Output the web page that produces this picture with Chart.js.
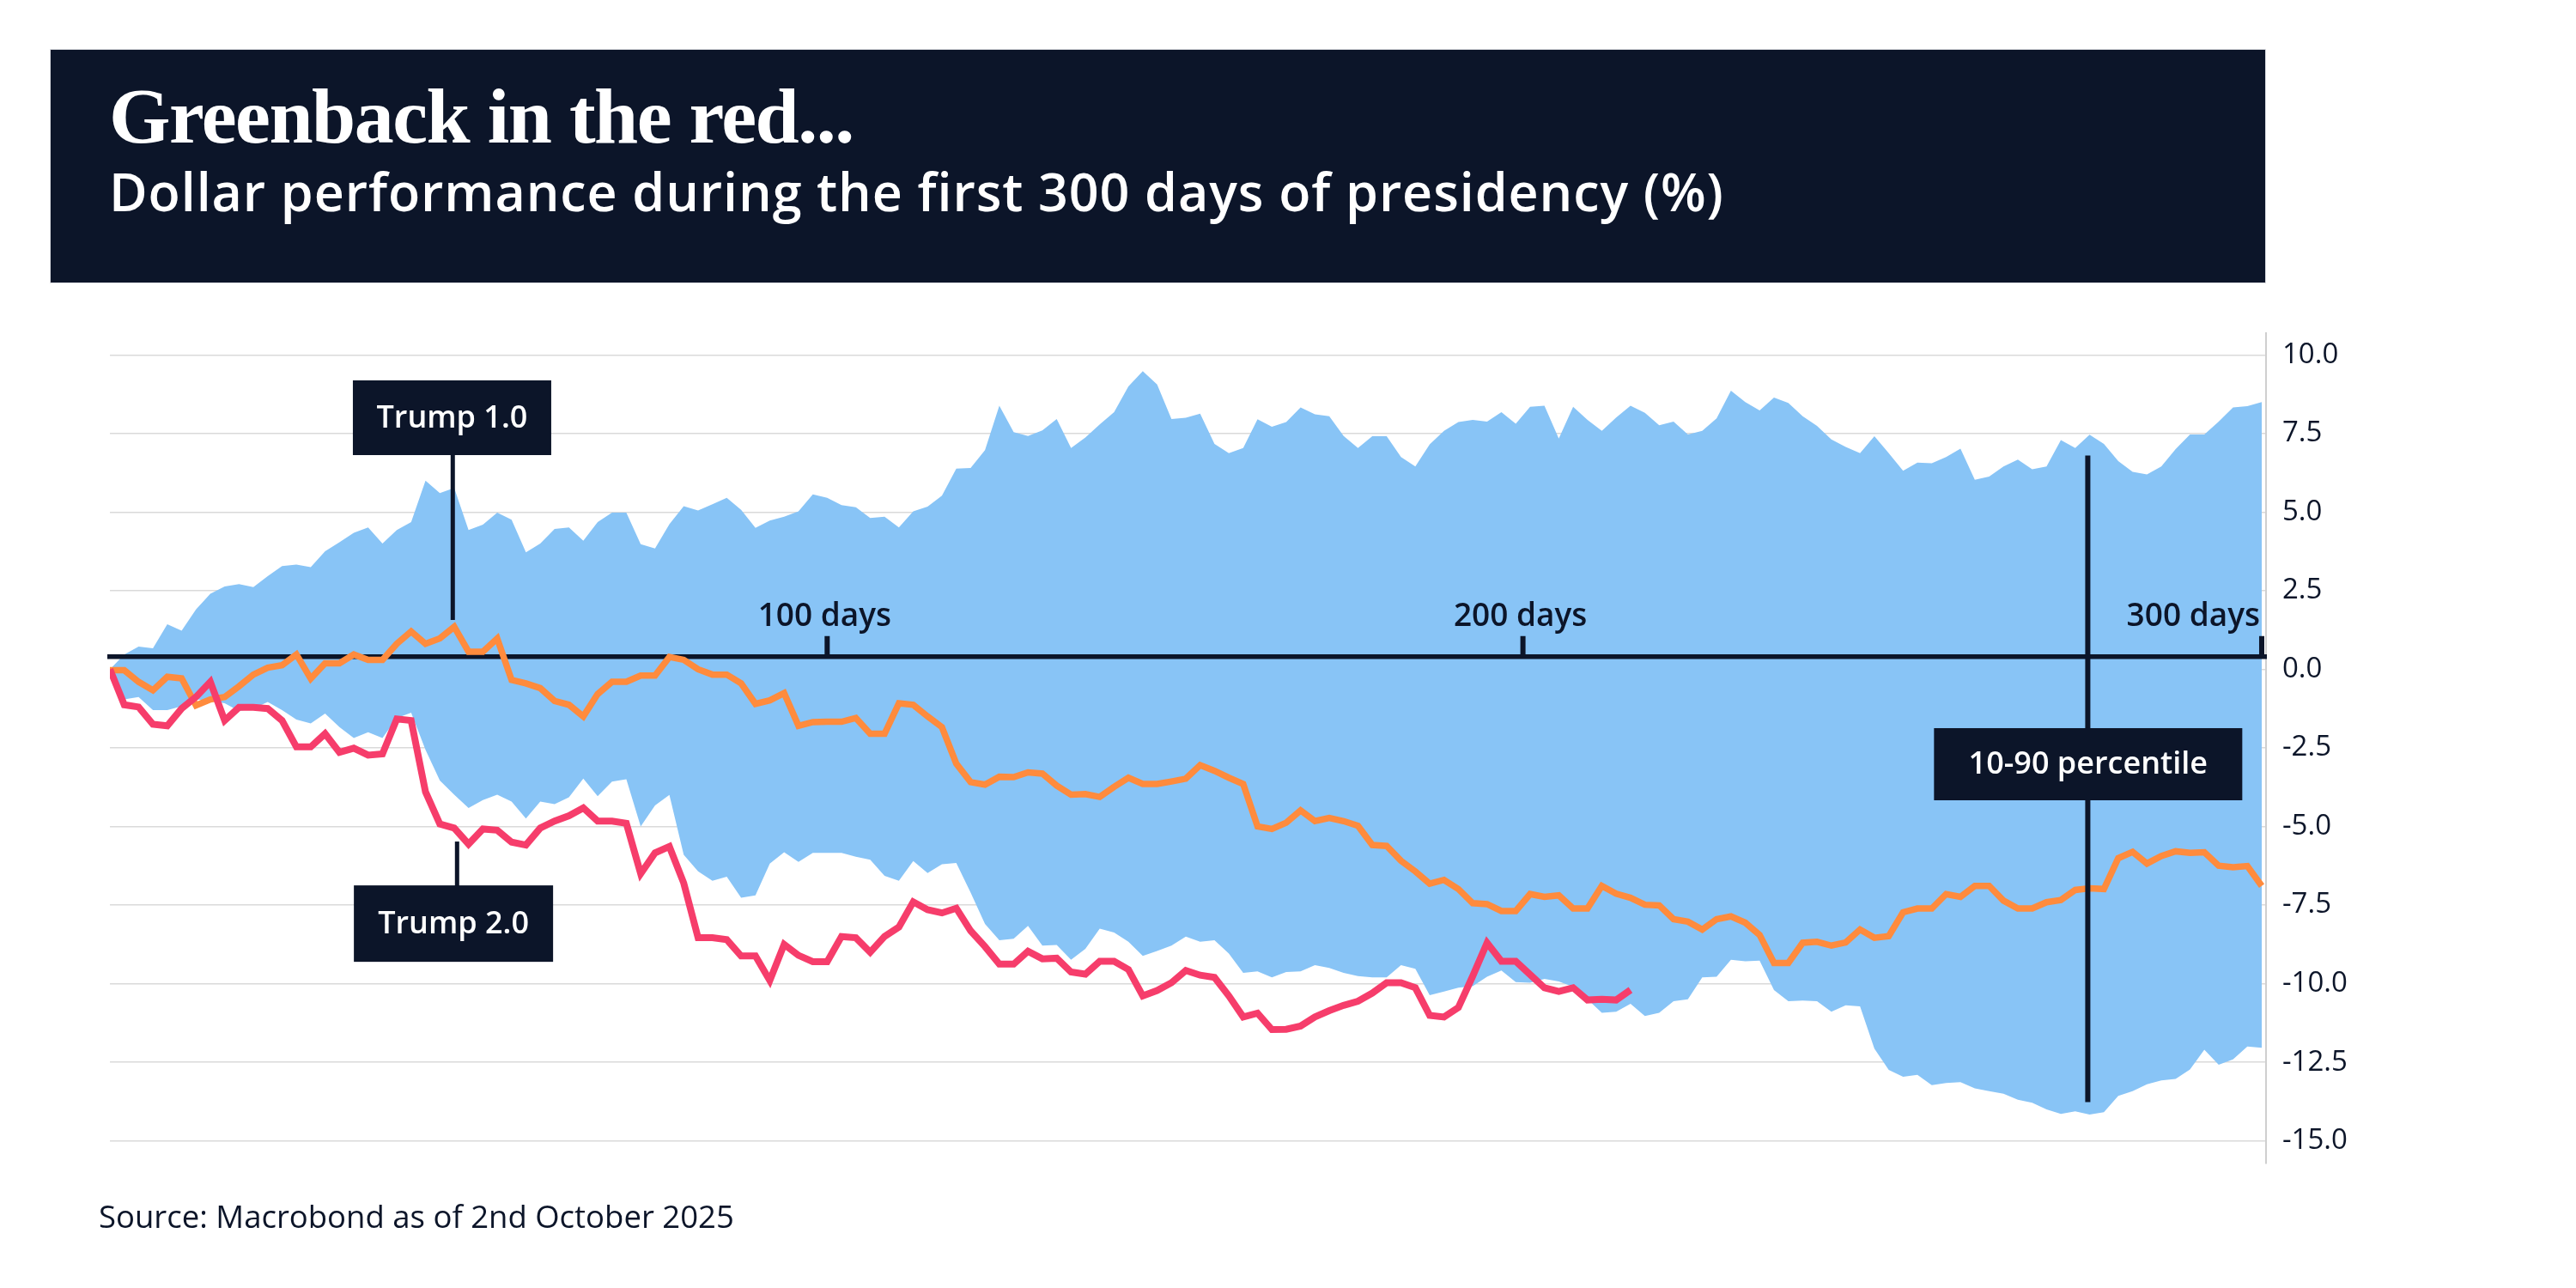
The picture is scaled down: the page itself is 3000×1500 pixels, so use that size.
<!DOCTYPE html>
<html>
<head>
<meta charset="utf-8">
<title>Greenback in the red...</title>
<script src="https://cdn.jsdelivr.net/npm/chart.js@4.4.1/dist/chart.umd.min.js"></script>
<style>
  html, body { margin: 0; padding: 0; background: #fff; }
  body { width: 3000px; height: 1500px; position: relative; overflow: hidden; color: #0c1529; }
  #head { position: absolute; left: 58px; top: 57px; width: 2581px; height: 273px; background: #0c1529; box-sizing: border-box; border: 1px solid #d9dbe0; }
  #title { position: absolute; left: 127px; top: 89px; font: 700 92px/1 "Liberation Serif", serif; letter-spacing: -1.5px; color: #fff; white-space: nowrap; }
  #subtitle { position: absolute; left: 127px; top: 192px; font: 600 61px/1 "Open Sans", sans-serif; letter-spacing: 0.9px; color: #fff; white-space: nowrap; }
  #source { position: absolute; left: 115px; top: 1398px; font: 400 36.5px/1 "Open Sans", sans-serif; color: #0c1529; white-space: nowrap; }
  #chart { position: absolute; left: 0; top: 0; width: 3000px; height: 1500px; }
</style>
</head>
<body>
<canvas id="chart" width="3000" height="1500"></canvas>
<div id="head"></div>
<div id="title">Greenback in the red...</div>
<div id="subtitle">Dollar performance during the first 300 days of presidency (%)</div>
<div id="source">Source: Macrobond as of 2nd October 2025</div>
<script>
// days since inauguration (every second day)
const days = [0,2,4,6,8,10,12,14,16,18,20,22,24,26,28,30,32,34,36,38,40,42,44,46,48,50,52,54,56,58,
  60,62,64,66,68,70,72,74,76,78,80,82,84,86,88,90,92,94,96,98,100,102,104,106,108,110,112,114,116,118,
  120,122,124,126,128,130,132,134,136,138,140,142,144,146,148,150,152,154,156,158,160,162,164,166,168,170,172,174,176,178,
  180,182,184,186,188,190,192,194,196,198,200,202,204,206,208,210,212,214,216,218,220,222,224,226,228,230,232,234,236,238,
  240,242,244,246,248,250,252,254,256,258,260,262,264,266,268,270,272,274,276,278,280,282,284,286,288,290,292,294,296,298,300];

// 90th percentile of past presidencies
const bandHigh = [0,0.47,0.72,0.67,1.43,1.23,1.9,2.4,2.63,2.71,
  2.61,2.96,3.28,3.33,3.25,3.75,4.04,4.34,4.51,4.0,
  4.43,4.68,6.0,5.6,5.77,4.43,4.6,4.98,4.76,3.72,
  4.0,4.46,4.51,4.09,4.68,4.98,4.98,3.98,3.84,4.61,
  5.19,5.05,5.25,5.45,5.07,4.5,4.73,4.85,5.02,5.56,
  5.45,5.22,5.15,4.81,4.85,4.51,5.02,5.17,5.52,6.38,
  6.4,6.97,8.38,7.54,7.42,7.6,7.96,7.04,7.37,7.79,
  8.18,9.0,9.48,9.06,7.96,8.0,8.13,7.17,6.87,7.04,
  7.95,7.71,7.86,8.33,8.11,8.05,7.42,7.04,7.41,7.41,
  6.75,6.45,7.15,7.58,7.86,7.93,7.88,8.18,7.81,8.35,
  8.38,7.34,8.35,7.93,7.58,8.01,8.38,8.16,7.76,7.88,
  7.47,7.58,7.98,8.86,8.5,8.23,8.64,8.47,8.05,7.74,
  7.31,7.07,6.87,7.41,6.87,6.31,6.57,6.55,6.75,7.02,
  6.03,6.13,6.45,6.67,6.36,6.45,7.29,7.04,7.46,7.17,
  6.62,6.28,6.2,6.45,7.0,7.47,7.47,7.88,8.33,8.37,
  8.5];

// 10th percentile of past presidencies
const bandLow = [0,-0.96,-0.88,-1.3,-1.3,-1.18,-0.96,-1.0,-1.08,-1.33,
  -1.25,-1.04,-1.3,-1.6,-1.72,-1.41,-1.84,-2.19,-2.0,-2.19,
  -1.55,-1.38,-2.56,-3.54,-3.99,-4.41,-4.16,-3.99,-4.21,-4.75,
  -4.21,-4.29,-4.07,-3.48,-4.04,-3.57,-3.5,-5.0,-4.33,-4.0,
  -5.9,-6.43,-6.73,-6.6,-7.27,-7.19,-6.18,-5.82,-6.13,-5.84,
  -5.84,-5.84,-5.96,-6.06,-6.57,-6.73,-6.1,-6.48,-6.2,-6.16,
  -7.1,-8.1,-8.62,-8.57,-8.16,-8.79,-8.77,-9.24,-8.89,-8.25,
  -8.37,-8.67,-9.12,-8.96,-8.79,-8.5,-8.67,-8.62,-9.04,-9.66,
  -9.61,-9.8,-9.63,-9.61,-9.41,-9.5,-9.66,-9.76,-9.8,-9.8,
  -9.41,-9.53,-10.37,-10.25,-10.13,-10.08,-9.78,-9.58,-9.95,-9.97,
  -9.85,-9.93,-10.1,-10.5,-10.93,-10.89,-10.64,-11.03,-10.93,-10.56,
  -10.5,-9.8,-9.78,-9.24,-9.29,-9.27,-10.2,-10.56,-10.54,-10.56,
  -10.89,-10.69,-10.72,-12.07,-12.74,-12.96,-12.9,-13.23,-13.16,-13.13,
  -13.33,-13.42,-13.5,-13.69,-13.79,-14.0,-14.14,-14.06,-14.16,-14.09,
  -13.57,-13.42,-13.2,-13.08,-13.03,-12.73,-12.1,-12.58,-12.41,-12.0,
  -12.04];

// Trump 1.0
const trump1 = [-0.03,-0.03,-0.4,-0.67,-0.24,-0.29,-1.15,-0.96,-0.88,-0.54,
  -0.17,0.05,0.13,0.47,-0.3,0.19,0.19,0.47,0.3,0.3,
  0.81,1.2,0.81,0.98,1.35,0.56,0.56,0.98,-0.34,-0.45,
  -0.6,-1.01,-1.13,-1.5,-0.79,-0.4,-0.4,-0.2,-0.2,0.39,
  0.3,0.0,-0.17,-0.17,-0.45,-1.1,-0.99,-0.76,-1.8,-1.68,
  -1.67,-1.67,-1.55,-2.05,-2.05,-1.08,-1.13,-1.5,-1.84,-3.0,
  -3.59,-3.67,-3.42,-3.43,-3.28,-3.32,-3.7,-3.99,-3.97,-4.06,
  -3.74,-3.45,-3.65,-3.65,-3.57,-3.48,-3.05,-3.23,-3.45,-3.65,
  -5.0,-5.08,-4.88,-4.49,-4.83,-4.73,-4.83,-4.98,-5.59,-5.62,
  -6.09,-6.43,-6.82,-6.7,-6.99,-7.44,-7.47,-7.69,-7.69,-7.15,
  -7.24,-7.19,-7.61,-7.61,-6.89,-7.14,-7.27,-7.49,-7.51,-7.95,
  -8.03,-8.28,-7.95,-7.86,-8.06,-8.45,-9.34,-9.34,-8.7,-8.67,
  -8.79,-8.69,-8.28,-8.54,-8.49,-7.73,-7.61,-7.61,-7.15,-7.24,
  -6.89,-6.89,-7.36,-7.61,-7.61,-7.41,-7.34,-7.02,-6.97,-6.99,
  -6.01,-5.81,-6.18,-5.94,-5.79,-5.84,-5.82,-6.25,-6.3,-6.26,
  -6.89];

// Trump 2.0 (up to 2nd October 2025)
const trump2 = [0,-1.13,-1.2,-1.75,-1.8,-1.25,-0.88,-0.4,-1.63,-1.21,
  -1.21,-1.25,-1.63,-2.47,-2.47,-2.05,-2.64,-2.51,-2.73,-2.69,
  -1.58,-1.63,-3.9,-4.92,-5.05,-5.56,-5.08,-5.12,-5.5,-5.59,
  -5.05,-4.83,-4.66,-4.41,-4.83,-4.83,-4.9,-6.5,-5.84,-5.64,
  -6.8,-8.54,-8.54,-8.6,-9.12,-9.12,-9.9,-8.75,-9.1,-9.3,
  -9.3,-8.5,-8.54,-9.0,-8.5,-8.2,-7.4,-7.65,-7.75,-7.6,
  -8.32,-8.82,-9.38,-9.38,-8.97,-9.21,-9.19,-9.63,-9.7,-9.29,
  -9.29,-9.55,-10.39,-10.22,-9.97,-9.58,-9.73,-9.8,-10.39,-11.06,
  -10.94,-11.46,-11.45,-11.35,-11.06,-10.86,-10.69,-10.56,-10.3,-9.97,
  -9.97,-10.13,-11.01,-11.06,-10.76,-9.76,-8.7,-9.29,-9.29,-9.71,
  -10.13,-10.25,-10.13,-10.52,-10.5,-10.52,-10.2];

const yTicks = [10, 7.5, 5, 2.5, 0, -2.5, -5, -7.5, -10, -12.5, -15];
const dayTicks = [100, 197, 300];
const dayLabels = ['100 days', '200 days', '300 days'];

const NAVY = '#0c1529';
const SANS = '"Open Sans", "Noto Sans", sans-serif';

// callout boxes, anchored in data units
const callouts = [
  { text: 'Trump 1.0', day: 47.7, value: 8.0, w: 231, h: 87, lineDay: 47.8, from: 8.0, to: 1.57, lw: 5 },
  { text: 'Trump 2.0', day: 47.9, value: -8.09, w: 232, h: 89, lineDay: 48.4, from: -8.09, to: -5.48, lw: 5 },
  { text: '10-90 percentile', day: 275.8, value: -3.02, w: 359, h: 84, lineDay: 275.75, from: 6.8, to: -13.77, lw: 6 }
];

const pts = (xs, ys) => ys.map((y, i) => ({ x: xs[i], y: y }));

// thick dark day axis, drawn above the band but under the two lines
const dayAxis = {
  id: 'dayAxis',
  beforeDatasetDraw(chart, args) {
    if (args.index !== 1) return;
    const { ctx, chartArea, scales: { x, y } } = chart;
    const y0 = y.getPixelForValue(0.4);
    ctx.save();
    ctx.strokeStyle = NAVY;
    ctx.lineWidth = 5.5;
    ctx.beginPath();
    ctx.moveTo(chartArea.left - 3, y0);
    ctx.lineTo(chartArea.right + 1, y0);
    ctx.stroke();
    ctx.fillStyle = NAVY;
    dayTicks.forEach(d => {
      const px = x.getPixelForValue(d);
      ctx.fillRect(px - 3, y0 - 24, 6, 24);
    });
    ctx.restore();
  },
  afterDatasetsDraw(chart) {
    const { ctx, chartArea, scales: { x, y } } = chart;
    const y0 = y.getPixelForValue(0.4);
    ctx.save();
    ctx.fillStyle = NAVY;
    ctx.font = '600 37px ' + SANS;
    ctx.textBaseline = 'alphabetic';
    dayTicks.forEach((d, i) => {
      const px = x.getPixelForValue(d);
      const w = ctx.measureText(dayLabels[i]).width;
      if (px + w / 2 > chartArea.right) {
        ctx.textAlign = 'right';
        ctx.fillText(dayLabels[i], px - 2, y0 - 36);
      } else {
        ctx.textAlign = 'center';
        ctx.fillText(dayLabels[i], px - 3, y0 - 36);
      }
    });

    // callouts
    callouts.forEach(c => {
      const lx = x.getPixelForValue(c.lineDay);
      ctx.strokeStyle = NAVY;
      ctx.lineWidth = c.lw;
      ctx.beginPath();
      ctx.moveTo(lx, y.getPixelForValue(c.from));
      ctx.lineTo(lx, y.getPixelForValue(c.to));
      ctx.stroke();

      const cx = x.getPixelForValue(c.day);
      const cy = y.getPixelForValue(c.value);
      ctx.fillStyle = NAVY;
      ctx.fillRect(cx - c.w / 2, cy - c.h / 2, c.w, c.h);
      ctx.fillStyle = '#ffffff';
      ctx.font = '600 36px ' + SANS;
      ctx.textAlign = 'center';
      ctx.textBaseline = 'middle';
      ctx.fillText(c.text, cx, cy + 1);
    });
    ctx.restore();
  }
};

new Chart(document.getElementById('chart'), {
  type: 'line',
  data: {
    datasets: [
      { label: 'Trump 2.0', data: pts(days, trump2), borderColor: '#f63d6b', borderWidth: 8, pointRadius: 0, tension: 0, fill: false },
      { label: 'Trump 1.0', data: pts(days, trump1), borderColor: '#ff8b3d', borderWidth: 7.5, pointRadius: 0, tension: 0, fill: false },
      { label: '90th percentile', data: pts(days, bandHigh), borderColor: 'rgba(0,0,0,0)', borderWidth: 0, backgroundColor: '#88c4f6', pointRadius: 0, tension: 0, fill: '+1' },
      { label: '10th percentile', data: pts(days, bandLow), borderColor: 'rgba(0,0,0,0)', borderWidth: 0, pointRadius: 0, tension: 0, fill: false }
    ]
  },
  options: {
    responsive: false,
    devicePixelRatio: 1,
    animation: false,
    events: [],
    layout: { padding: { left: 128, right: 0, top: 388, bottom: 145 } },
    plugins: { legend: { display: false }, tooltip: { enabled: false }, title: { display: false } },
    scales: {
      x: { type: 'linear', min: 0, max: 300.6, display: false },
      y: {
        position: 'right',
        min: -15.72, max: 10.69,
        afterBuildTicks: s => { s.ticks = yTicks.map(v => ({ value: v })); },
        afterFit: s => { s.width = 361; },
        grid: { color: '#dadada', lineWidth: 1.5, drawTicks: false },
        border: { display: true, color: '#cfcfcf', width: 2 },
        ticks: { padding: 19, color: NAVY, font: { family: SANS, size: 33 }, callback: v => Number(v).toFixed(1) }
      }
    }
  },
  plugins: [dayAxis]
});
</script>
</body>
</html>
